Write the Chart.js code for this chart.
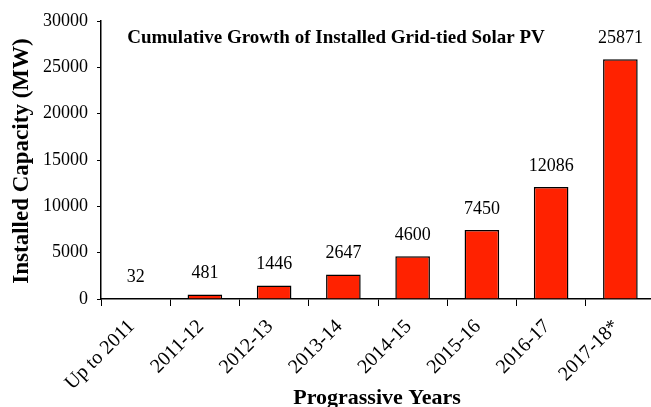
<!DOCTYPE html>
<html>
<head>
<meta charset="utf-8">
<script src="https://cdn.jsdelivr.net/npm/chart.js@4/dist/chart.umd.min.js"></script>
<style>
  html, body { margin: 0; padding: 0; background: #fff; overflow: hidden; }
  #wrap { width: 651px; height: 407px; overflow: hidden; }
</style>
</head>
<body>
<div id="wrap"><canvas id="myChart" width="662" height="407"></canvas></div>
<script>
// Donnees du graphique
const years = ['Up to 2011', '2011-12', '2012-13', '2013-14', '2014-15', '2015-16', '2016-17', '2017-18*'];
const capacity = [32, 481, 1446, 2647, 4600, 7450, 12086, 25871];
const yTicks = [0, 5000, 10000, 15000, 20000, 25000, 30000];

const serif = '"Liberation Serif", "Times New Roman", serif';

// Plugin pour les textes : titre, titres des axes, valeurs au-dessus des barres
const textPlugin = {
    id: 'texts',
    afterDatasetsDraw(chart) {
        const ctx = chart.ctx;
        ctx.save();
        ctx.fillStyle = '#000';
        ctx.textAlign = 'center';
        ctx.textBaseline = 'middle';
        // valeurs
        ctx.font = '18px ' + serif;
        chart.getDatasetMeta(0).data.forEach((bar, i) => {
            ctx.fillText(String(capacity[i]), bar.x, bar.y - 21);
        });
        // titre dans la zone du graphique
        ctx.font = 'bold 19px ' + serif;
        ctx.fillText('Cumulative Growth of Installed Grid-tied Solar PV', 336, 38);
        // titre axe x
        ctx.font = 'bold 22px ' + serif;
        ctx.textBaseline = 'alphabetic';
        ctx.fillText('Prograssive Years', 377, 404);
        // titre axe y
        ctx.font = 'bold 23px ' + serif;
        ctx.translate(28, 161);
        ctx.rotate(-Math.PI / 2);
        ctx.fillText('Installed Capacity (MW)', 0, 0);
        ctx.restore();
    }
};

new Chart(document.getElementById('myChart'), {
    type: 'bar',
    data: {
        labels: years,
        datasets: [{
            data: capacity,
            backgroundColor: '#FF2200',
            borderColor: '#000',
            borderWidth: 1.5,
            borderSkipped: 'bottom',
            barPercentage: 0.5,
            categoryPercentage: 1
        }]
    },
    options: {
        responsive: false,
        animation: false,
        layout: { padding: { top: 21, right: 7, left: 0, bottom: 0 } },
        plugins: {
            legend: { display: false },
            tooltip: { enabled: false }
        },
        scales: {
            x: {
                afterFit: scale => { scale.height = 108; },
                grid: { drawOnChartArea: false, color: '#000', tickLength: 7, offset: true },
                border: { color: '#000', width: 1.5 },
                ticks: {
                    color: '#000',
                    font: { family: serif, size: 20 },
                    maxRotation: 45,
                    minRotation: 45,
                    padding: 9,
                    labelOffset: -4
                }
            },
            y: {
                min: 0,
                max: 30000,
                afterFit: scale => { scale.width = 101; },
                afterBuildTicks: scale => { scale.ticks = yTicks.map(v => ({ value: v })); },
                grid: { drawOnChartArea: false, color: '#000', tickLength: 4 },
                border: { color: '#000', width: 1.5 },
                ticks: {
                    color: '#000',
                    font: { family: serif, size: 18 },
                    padding: 9,
                    callback: value => String(value)
                }
            }
        }
    },
    plugins: [textPlugin]
});
</script>
</body>
</html>
